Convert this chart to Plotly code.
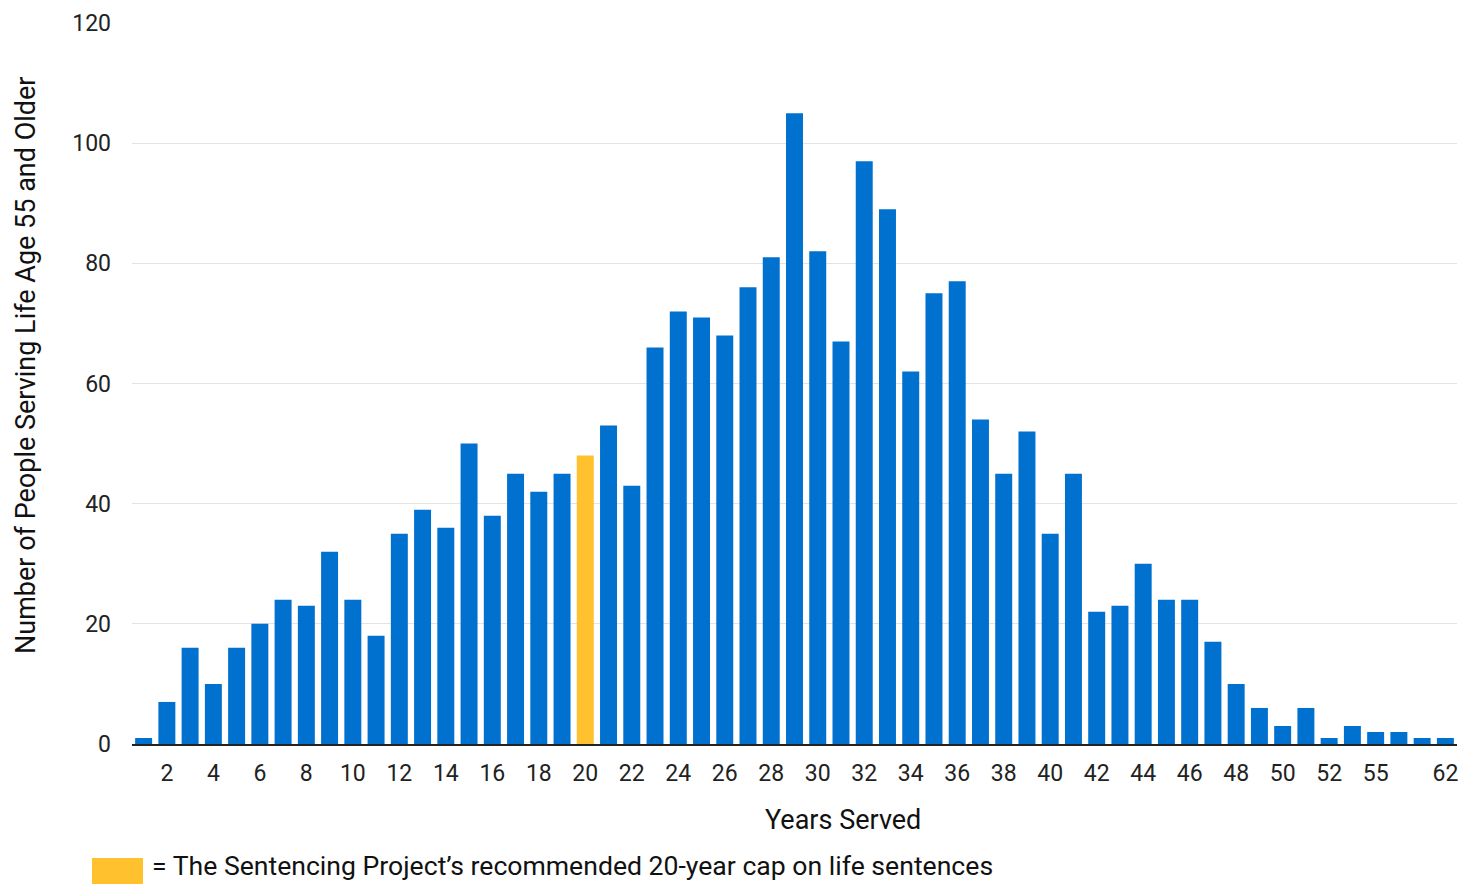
import plotly.graph_objects as go

years = [str(i) for i in range(1, 54)] + ["55", "56", "58", "62"]
counts = [1, 7, 16, 10, 16, 20, 24, 23, 32, 24,
          18, 35, 39, 36, 50, 38, 45, 42, 45, 48,
          53, 43, 66, 72, 71, 68, 76, 81, 105, 82,
          67, 97, 89, 62, 75, 77, 54, 45, 52, 35,
          45, 22, 23, 30, 24, 24, 17, 10, 6, 3,
          6, 1, 3, 2, 2, 1, 1]
tick_labels = [str(i) for i in range(2, 53, 2)] + ["55", "62"]
highlight = "20"

BLUE = "#0071CE"
YELLOW = "#FFC12E"
colors = [YELLOW if y == highlight else BLUE for y in years]

fig = go.Figure(go.Bar(x=years, y=counts, marker=dict(color=colors, line=dict(width=0))))

fig.update_layout(
    width=1459, height=876,
    margin=dict(l=124, r=10, t=15, b=140),
    plot_bgcolor="white", paper_bgcolor="white",
    font=dict(family="Roboto", size=23, color="#222222"),
    bargap=0.27,
    showlegend=False,
)
fig.update_xaxes(
    type="category", tickmode="array", tickvals=tick_labels, ticktext=tick_labels,
    showgrid=False, showline=True, linecolor="#222222", linewidth=1.5,
    ticks="", ticklabelstandoff=8, automargin=False,
)
fig.update_yaxes(
    range=[0, 120], tickvals=[0, 20, 40, 60, 80, 100, 120],
    showgrid=True, gridcolor="#E3E3E3", gridwidth=1, zeroline=False,
    ticks="", ticklabelstandoff=20, automargin=False,
)
# axis titles (placed as in the reference, off-centre)
fig.add_annotation(xref="paper", yref="paper", x=0.5366, y=-0.1054,
                   xanchor="center", yanchor="middle", showarrow=False,
                   text="Years Served", font=dict(size=27, color="#111111"))
fig.add_annotation(xref="paper", yref="paper", x=-0.0800, y=0.5243,
                   xanchor="center", yanchor="middle", showarrow=False, textangle=-90,
                   borderpad=0,
                   text="Number of People Serving Life Age 55 and Older",
                   font=dict(size=27, color="#111111"))
# legend key
fig.add_shape(type="rect", xref="paper", yref="paper",
              x0=-0.0302, x1=0.0083, y0=-0.1942, y1=-0.1582,
              fillcolor=YELLOW, line=dict(width=0))
fig.add_annotation(xref="paper", yref="paper", x=0.0136, y=-0.1692,
                   xanchor="left", yanchor="middle", showarrow=False,
                   text="= The Sentencing Project’s recommended 20-year cap on life sentences",
                   font=dict(size=26.6, color="#111111"))

fig.write_html("out.html")
